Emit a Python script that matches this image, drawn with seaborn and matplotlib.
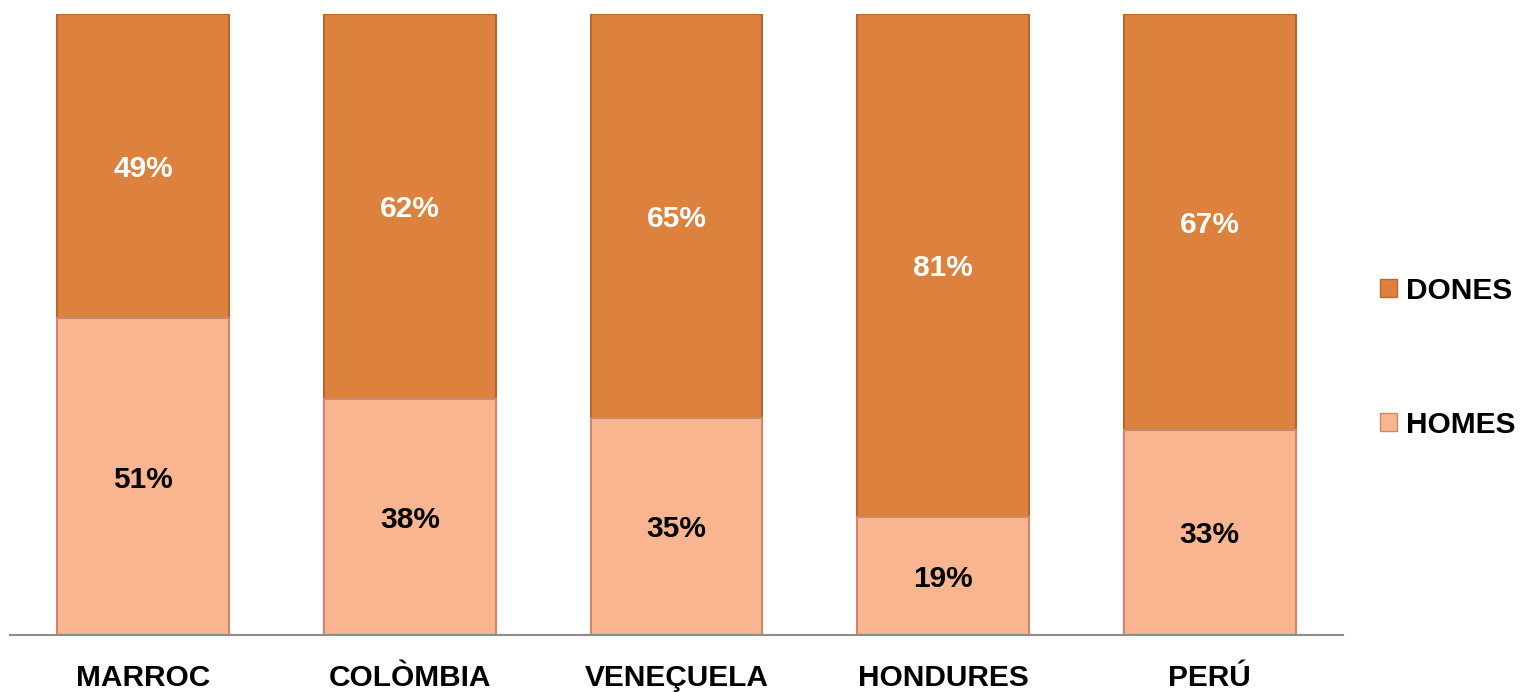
import pandas as pd
import matplotlib.pyplot as plt
import seaborn as sns
from matplotlib.patches import Patch

countries = ['MARROC', 'COLÒMBIA', 'VENEÇUELA', 'HONDURES', 'PERÚ']
homes = [51, 38, 35, 19, 33]
dones = [49, 62, 65, 81, 67]

df = pd.DataFrame({'pais': countries, 'homes': homes, 'dones': dones})
df['total'] = df['homes'] + df['dones']

c_dones, e_dones = '#DC823E', '#B8672A'
c_homes, e_homes = '#F8B590', '#C9896A'

sns.set_style('white')
plt.rcParams['font.family'] = ['Liberation Sans', 'DejaVu Sans']
plt.rcParams['text.color'] = 'black'
plt.rcParams['xtick.color'] = 'black'

fig = plt.figure(figsize=(15.24, 6.92), dpi=100)
ax = fig.add_axes([0.0066, 0.0824, 0.8746, 0.8976])

# stacked: full bar as DONES, HOMES drawn over the bottom part
sns.barplot(data=df, x='pais', y='total', color=c_dones, edgecolor=e_dones,
            linewidth=1.5, width=0.645, saturation=1, ax=ax)
sns.barplot(data=df, x='pais', y='homes', color=c_homes, edgecolor=e_homes,
            linewidth=1.5, width=0.645, saturation=1, ax=ax)

for i, (h, d) in enumerate(zip(homes, dones)):
    ax.text(i, h / 2, f'{h}%', ha='center', va='center_baseline', fontsize=21.5,
            fontweight='bold', color='black')
    ax.text(i, h + d / 2, f'{d}%', ha='center', va='center_baseline', fontsize=21.5,
            fontweight='bold', color='white')

ax.set_xlim(-0.5, 4.5)
ax.set_ylim(0, 100)
ax.set_xlabel('')
ax.set_ylabel('')
ax.set_yticks([])
for s in ['top', 'right', 'left']:
    ax.spines[s].set_visible(False)
ax.spines['bottom'].set_color('#8C8C8C')
ax.spines['bottom'].set_linewidth(1.5)
ax.tick_params(axis='x', length=0, pad=21, labelsize=21.5, labelcolor='black')
for lbl in ax.get_xticklabels():
    lbl.set_fontweight('bold')

handles = [Patch(facecolor=c_dones, edgecolor=e_dones, label='DONES'),
           Patch(facecolor=c_homes, edgecolor=e_homes, label='HOMES')]
leg = ax.legend(handles=handles, loc='center left', bbox_to_anchor=(1.028, 0.446),
                frameon=False, labelspacing=3.55, handlelength=0.55, handleheight=0.55,
                handletextpad=0.3, borderpad=0, borderaxespad=0,
                prop={'size': 21.5, 'weight': 'bold'})
for t in leg.get_texts():
    t.set_color('black')

fig.savefig('out.png', dpi=100)
